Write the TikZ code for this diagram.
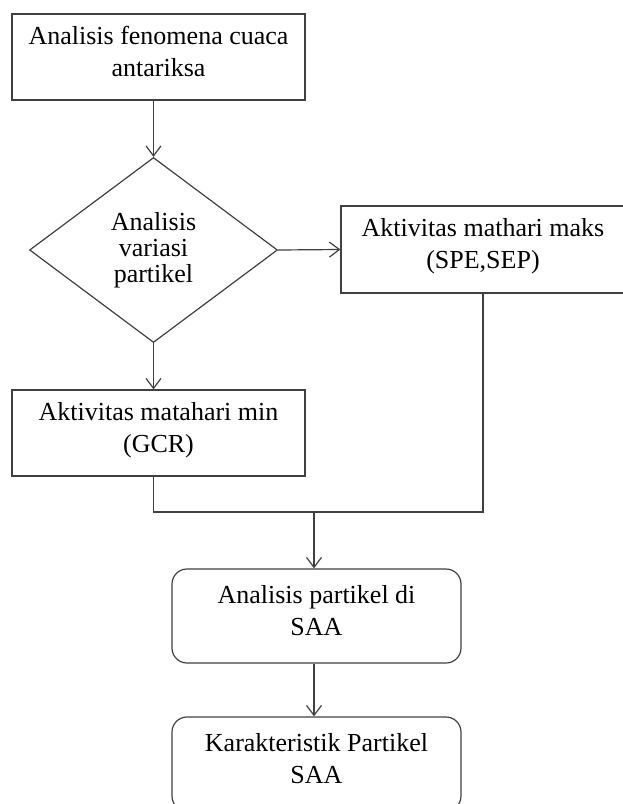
\documentclass[tikz,border=0pt]{standalone}
\usepackage{fontspec}
\setmainfont{Liberation Serif}
\usetikzlibrary{arrows.meta,shapes.geometric}

\begin{document}
\begin{tikzpicture}[x=0.5pt,y=-0.5pt,>={Straight Barb[length=5pt,width=7.5pt]},
    line width=0.6pt,draw=black!75,
    box/.style={draw,rectangle,align=center,inner sep=0pt,text depth=6pt,
      font=\fontsize{13}{16}\selectfont},
    roundbox/.style={box,rounded corners=7.5pt},
    decision/.style={draw,diamond,align=center,inner sep=0pt,aspect=1.34,
      font=\fontsize{13}{13}\selectfont}]
    \useasboundingbox (0,0) rectangle (622,804);

    \node[box,minimum width=146.5pt,minimum height=43pt] (fen) at (158.5,57)
      {Analisis fenomena cuaca\\antariksa};
    \node[decision,minimum width=124pt,minimum height=92.5pt] (var) at (153.5,250)
      {Analisis\\variasi\\partikel};
    \node[box,minimum width=142pt,minimum height=43.5pt] (maks) at (483,249.5)
      {Aktivitas mathari maks\\(SPE,SEP)};
    \node[box,minimum width=146.5pt,minimum height=43pt] (min) at (158.5,433)
      {Aktivitas matahari min\\(GCR)};
    \node[roundbox,minimum width=144.5pt,minimum height=47pt] (saa) at (316.5,616)
      {Analisis partikel di\\SAA};
    \node[roundbox,minimum width=144.5pt,minimum height=47pt] (kar) at (316.5,764)
      {Karakteristik Partikel\\SAA};
    \coordinate (join) at (314,512);

    \path[->]
    (fen.south -| var.north) edge (var.north)
    (var.east) edge (maks.west)
    (var.south) edge (var.south |- min.north)

    (join) edge (join |- saa.north)
    (join |- saa.south) edge (join |- kar.north)
    ;
    \draw (var.south |- min.south) -- (var.south |- join) -- (maks.south |- join) -- (maks.south);
  \end{tikzpicture}
\end{document}
